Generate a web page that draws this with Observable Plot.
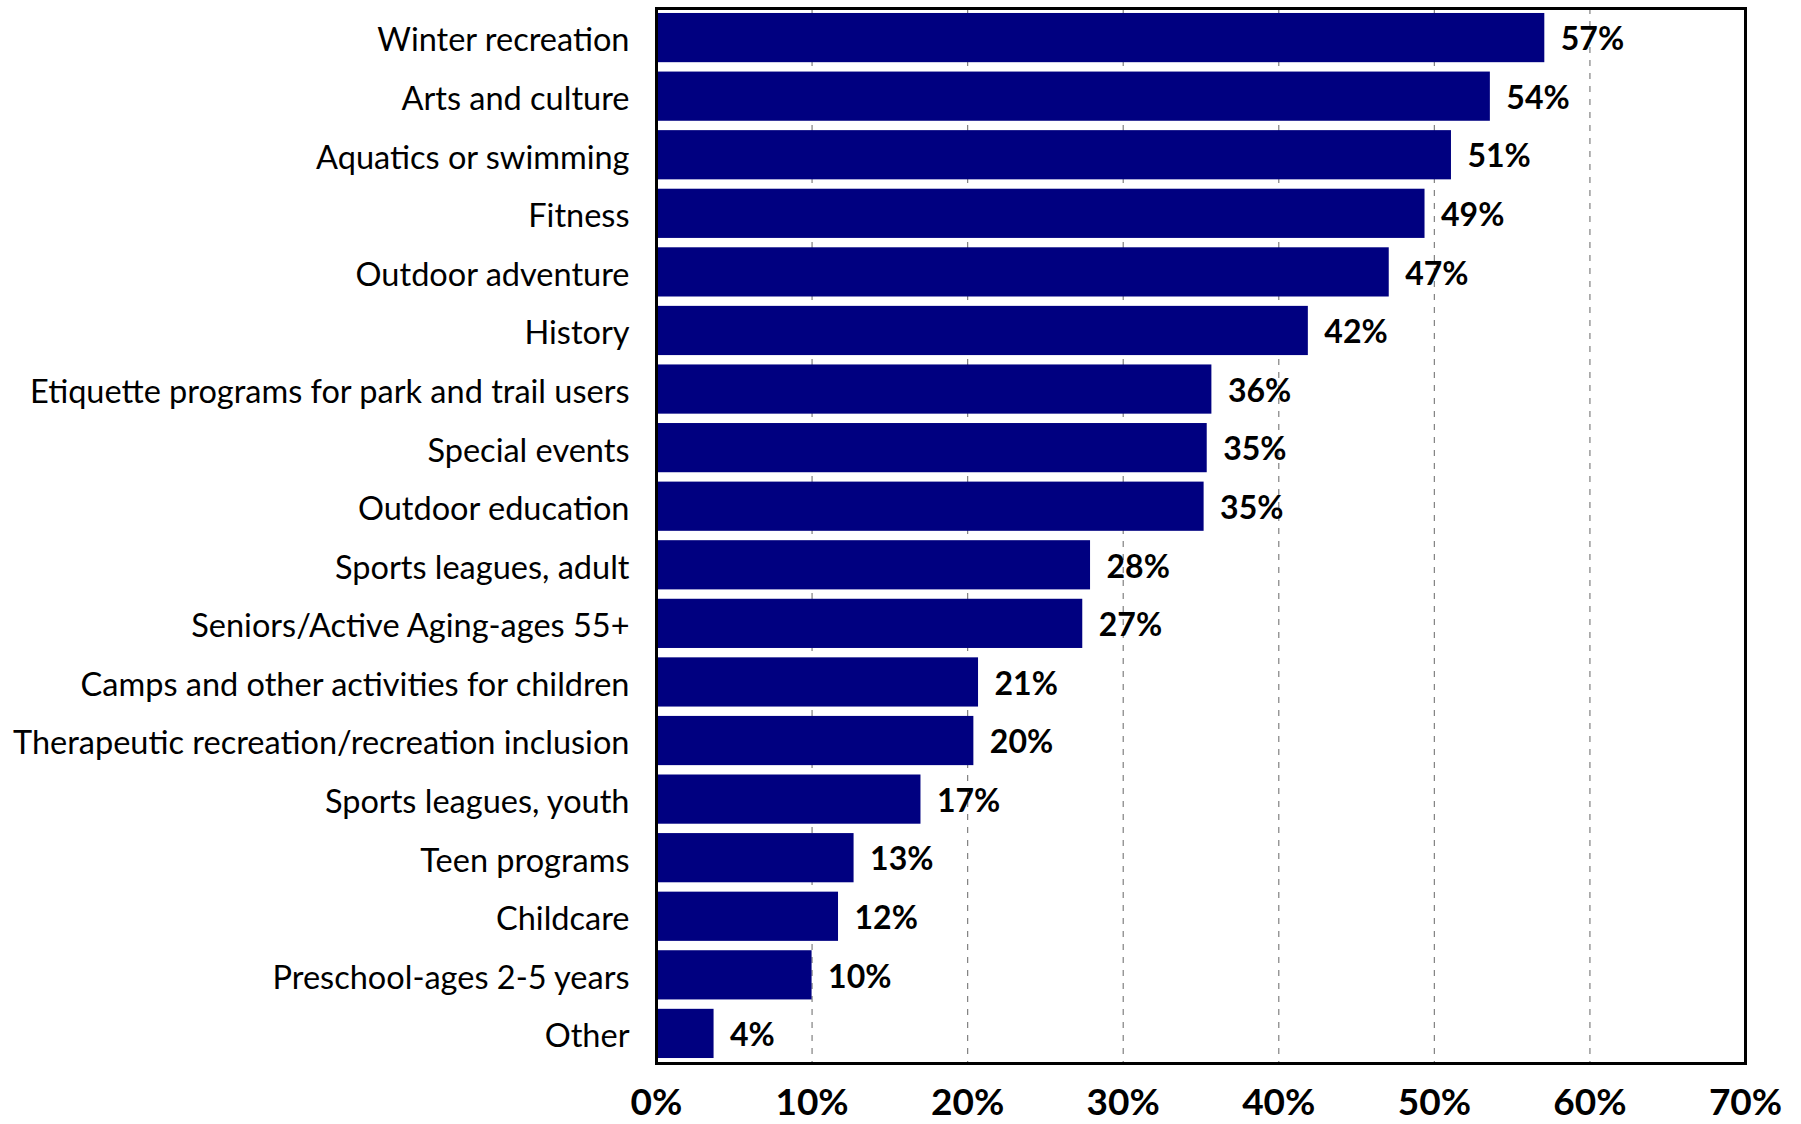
<!DOCTYPE html>
<html>
<head>
<meta charset="utf-8">
<script src="https://cdn.jsdelivr.net/npm/d3@7"></script>
<script src="https://cdn.jsdelivr.net/npm/@observablehq/plot@0.6"></script>
<style>
  html, body { margin: 0; padding: 0; background: #fff; }
  #chart svg { display: block; }
</style>
</head>
<body>
<div id="chart"></div>
<script>
const categories = [
  "Winter recreation",
  "Arts and culture",
  "Aquatics or swimming",
  "Fitness",
  "Outdoor adventure",
  "History",
  "Etiquette programs for park and trail users",
  "Special events",
  "Outdoor education",
  "Sports leagues, adult",
  "Seniors/Active Aging-ages 55+",
  "Camps and other activities for children",
  "Therapeutic recreation/recreation inclusion",
  "Sports leagues, youth",
  "Teen programs",
  "Childcare",
  "Preschool-ages 2-5 years",
  "Other"
];
const values = [0.571, 0.536, 0.511, 0.494, 0.471, 0.419, 0.357, 0.354, 0.352, 0.279, 0.274, 0.207, 0.204, 0.170, 0.127, 0.117, 0.100, 0.037];
const xTicks = [0, 0.1, 0.2, 0.3, 0.4, 0.5, 0.6, 0.7];
const gridTicks = [0.1, 0.2, 0.3, 0.4, 0.5, 0.6];

const data = categories.map((c, i) => ({category: c, value: values[i]}));
const pct = d3.format(".0%");

const chart = Plot.plot({
  width: 1801,
  height: 1124,
  marginLeft: 656,
  marginRight: 56,
  marginTop: 8,
  marginBottom: 61,
  style: {fontFamily: "Lato, 'Open Sans', sans-serif", color: "#000", background: "#fff"},
  x: {domain: [0, 0.7], range: [656, 1745]},
  y: {domain: categories, paddingInner: 0.16, paddingOuter: 0.085, round: false},
  marks: [
    Plot.ruleX(gridTicks, {stroke: "#808080", strokeWidth: 1.2, strokeDasharray: "6,7"}),
    Plot.barX(data, {x: "value", y: "category", fill: "#000080"}),
    Plot.text(data, {x: "value", y: "category", text: d => pct(d.value), textAnchor: "start", dx: 16, dy: 2, fontSize: 32, fontWeight: "bold", fill: "#000"}),
    Plot.axisX({ticks: xTicks, tickFormat: pct, tickSize: 0, tickPadding: 25, fontSize: 37, fontWeight: "bold", label: null}),
    Plot.axisY({tickSize: 0, tickPadding: 27, fontSize: 32.5, dy: 3, label: null}),
    Plot.frame({stroke: "#000", strokeWidth: 3})
  ]
});
document.getElementById("chart").appendChild(chart);
</script>
</body>
</html>
